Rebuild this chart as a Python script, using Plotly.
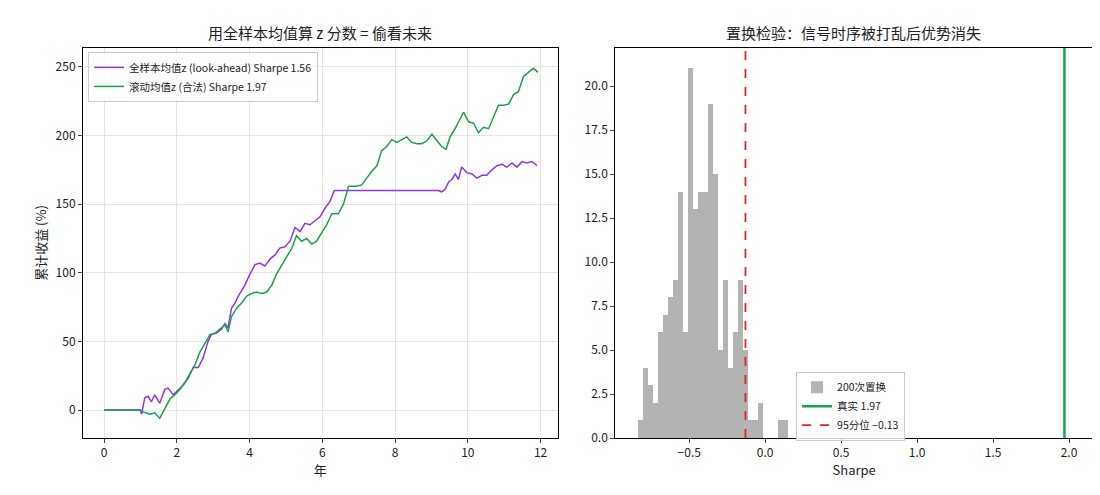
import plotly.graph_objects as go

# left panel: cumulative return (%) by year
years_la = [0, 1.0, 1.03, 1.12, 1.21, 1.30, 1.39, 1.53, 1.67, 1.76, 1.90, 2.04, 2.17, 2.31, 2.45, 2.59, 2.72, 2.86,
            2.95, 3.09, 3.23, 3.32, 3.41, 3.50, 3.60, 3.69, 3.78, 3.87, 4.01, 4.15, 4.28, 4.42, 4.56, 4.70,
            4.83, 4.97, 5.11, 5.25, 5.39, 5.52, 5.66, 5.80, 5.94, 6.07, 6.21, 6.33, 9.19, 9.28, 9.38, 9.47,
            9.56, 9.65, 9.74, 9.83, 9.97, 10.11, 10.25, 10.39, 10.52, 10.66, 10.80, 10.94, 11.07, 11.21,
            11.35, 11.49, 11.62, 11.76, 11.90]
cum_la = [0, 0, -3, 9, 10, 6, 11, 5, 15, 16, 11, 15, 18, 23, 31, 31, 38, 50,
          55, 56, 59, 63, 60, 74, 78, 83, 87, 91, 99, 106, 107, 105, 110, 113,
          118, 119, 123, 133, 130, 136, 135, 138, 141, 147, 152, 160, 160, 159, 161, 166,
          168, 172, 168, 177, 173, 172, 169, 171, 171, 175, 178, 179, 177, 180,
          177, 181, 180, 181, 178]

years_roll = [0, 1.0, 1.03, 1.12, 1.26, 1.39, 1.53, 1.67, 1.81, 1.94, 2.08, 2.22, 2.36, 2.50, 2.63, 2.77, 2.91,
              3.05, 3.18, 3.32, 3.41, 3.50, 3.64, 3.78, 3.92, 4.06, 4.19, 4.33, 4.47, 4.61, 4.74, 4.88,
              5.02, 5.16, 5.29, 5.43, 5.57, 5.71, 5.84, 5.98, 6.12, 6.26, 6.44, 6.58, 6.72, 6.94, 7.08,
              7.22, 7.36, 7.50, 7.63, 7.77, 7.91, 8.05, 8.18, 8.32, 8.46, 8.60, 8.73, 8.87, 9.01, 9.15,
              9.28, 9.40, 9.51, 9.65, 9.79, 9.88, 10.02, 10.16, 10.29, 10.43, 10.57, 10.71, 10.84, 10.98,
              11.12, 11.26, 11.39, 11.53, 11.67, 11.80, 11.93]
cum_roll = [0, 0, -1, -2, -3, -2, -6, 1, 8, 11, 15, 20, 27, 33, 42, 48, 55,
            56, 59, 62, 57, 68, 74, 78, 83, 85, 86, 85, 86, 91, 99, 105,
            112, 118, 127, 123, 125, 121, 123, 129, 135, 143, 143, 150, 163, 163, 164,
            169, 174, 178, 189, 192, 197, 195, 197, 199, 195, 194, 194, 196, 201, 196,
            192, 190, 199, 205, 213, 217, 210, 209, 202, 206, 205, 214, 222, 222,
            223, 230, 232, 243, 246, 249, 246]

# right panel: permutation Sharpe histogram
bin_start = -0.836
bin_width = 0.0329
perm_counts = [1, 4, 3, 2, 6, 7, 8, 9, 14, 6, 21, 13, 14, 14, 19, 15, 5, 9, 4, 6, 9, 5,
               1, 1, 2, 0, 0, 0, 1, 1]
real_sharpe = 1.97
p95 = -0.13

centers = [bin_start + bin_width * (i + 0.5) for i in range(len(perm_counts))]

font = "Noto Sans CJK SC, Noto Sans, sans-serif"
fig = go.Figure()

fig.add_trace(go.Scatter(x=years_la, y=cum_la, mode="lines", line=dict(color="#9333ea", width=1.5),
                         name="全样本均值z (look-ahead) Sharpe 1.56", legend="legend"))
fig.add_trace(go.Scatter(x=years_roll, y=cum_roll, mode="lines", line=dict(color="#16a34a", width=1.5),
                         name="滚动均值z (合法) Sharpe 1.97", legend="legend"))

fig.add_trace(go.Bar(x=centers, y=perm_counts, width=bin_width, marker=dict(color="#b3b3b3", line_width=0),
                     name="200次置换", xaxis="x2", yaxis="y2", legend="legend2"))
fig.add_trace(go.Scatter(x=[real_sharpe, real_sharpe], y=[0, 30], mode="lines",
                         line=dict(color="#16a34a", width=2.5), name="真实 1.97",
                         xaxis="x2", yaxis="y2", legend="legend2"))
fig.add_trace(go.Scatter(x=[p95, p95], y=[0, 30], mode="lines",
                         line=dict(color="#e02424", width=1.8, dash="dash"), name="95分位 −0.13",
                         xaxis="x2", yaxis="y2", legend="legend2"))

ax = dict(showline=True, linecolor="black", mirror=True, ticks="outside", ticklen=4,
          tickfont=dict(size=12, color="#222"), zeroline=False, automargin=False)
fig.update_layout(
    width=1100, height=495, plot_bgcolor="white", paper_bgcolor="white",
    margin=dict(l=75, r=15, t=40, b=65, autoexpand=False), font=dict(family=font, color="#222"), bargap=0,
    xaxis=dict(ax, domain=[0, 0.470], range=[-0.58, 12.47], dtick=2, showgrid=True, gridcolor="#e5e5e5",
               title=dict(text="年", font=dict(size=13), standoff=4)),
    yaxis=dict(ax, domain=[0, 1], range=[-20.4, 263.8], dtick=50, showgrid=True, gridcolor="#e5e5e5",
               title=dict(text="累计收益 (%)", font=dict(size=13), standoff=6)),
    xaxis2=dict(ax, domain=[0.527, 1], range=[-0.987, 2.158], dtick=0.5, tickformat=".1f",
                showgrid=False, anchor="y2", title=dict(text="Sharpe", font=dict(size=13), standoff=4)),
    yaxis2=dict(ax, domain=[0, 1], range=[0, 22.16], dtick=2.5, tickformat=".1f",
                showgrid=False, anchor="x2"),
    legend=dict(x=0.005, y=0.99, xanchor="left", yanchor="top", bgcolor="rgba(255,255,255,0.8)",
                bordercolor="#ccc", borderwidth=1, font=dict(size=10.5)),
    legend2=dict(x=0.706, y=0.17, xanchor="left", yanchor="top", bgcolor="rgba(255,255,255,0.8)",
                 bordercolor="#ccc", borderwidth=1, font=dict(size=10.5)),
    showlegend=True,
    annotations=[
        dict(text="用全样本均值算 z 分数 = 偷看未来", x=0.235, y=1, xref="paper", yref="paper",
             xanchor="center", yanchor="bottom", yshift=3, showarrow=False, font=dict(size=15)),
        dict(text="置换检验：信号时序被打乱后优势消失", x=0.763, y=1, xref="paper", yref="paper",
             xanchor="center", yanchor="bottom", yshift=3, showarrow=False, font=dict(size=15)),
    ],
)

fig.write_html("out.html")
